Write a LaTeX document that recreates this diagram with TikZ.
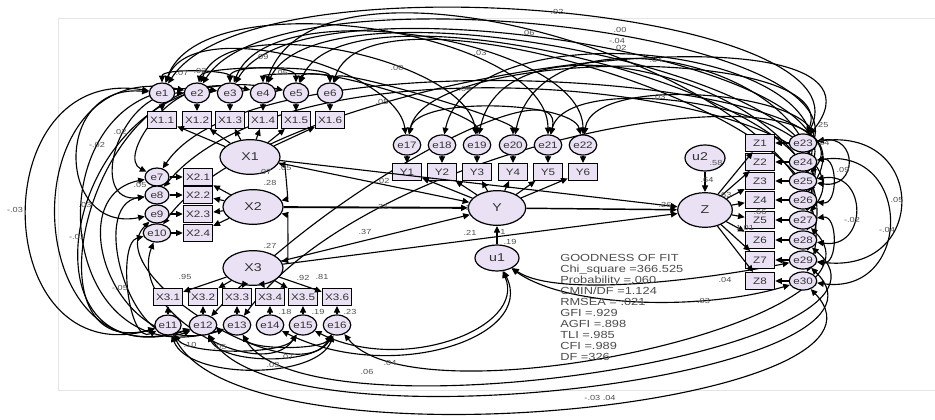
\documentclass[tikz,border=0pt]{standalone}
\usepackage{fontspec}
\setmainfont[FakeStretch=1.25]{Liberation Sans}
\usetikzlibrary{shapes.geometric,arrows.meta}
\pgfdeclarelayer{background}
\pgfsetlayers{background,main}
\definecolor{nfill}{RGB}{234,226,244}
\definecolor{gtext}{RGB}{80,80,80}
\begin{document}
\begin{tikzpicture}[x=0.75pt,y=-0.75pt,
 lat/.style={ellipse,draw,fill=nfill,line width=0.9pt,minimum width=45pt,minimum height=26pt,inner sep=0pt,text=black!80,font=\fontsize{8.5}{8.5}\selectfont},
 err/.style={ellipse,draw,fill=nfill,line width=0.9pt,minimum width=19pt,minimum height=15pt,inner sep=0pt,text=black!80,font=\fontsize{7}{7}\selectfont},
 errs/.style={err,minimum width=18pt,minimum height=13.5pt},
 obs/.style={rectangle,draw,fill=nfill,line width=0.9pt,minimum width=22pt,minimum height=12.5pt,inner sep=0pt,text=black!80,font=\fontsize{7}{7}\selectfont},
 reg/.style={-{Triangle[length=5pt,width=4.5pt]},line width=0.85pt},
 cov/.style={{Triangle[length=5pt,width=4.5pt]}-{Triangle[length=5pt,width=4.5pt]},line width=0.85pt},
 lbl/.style={font=\fontsize{5.5}{5.5}\selectfont,text=gtext,inner sep=0.5pt},
]
\useasboundingbox (0,0) rectangle (935,420);

% ---- latent variables
\node[lat] (X1) at (250,157) {X1};
\node[lat] (X2) at (253,207) {X2};
\node[lat] (X3) at (253,268) {X3};
\node[lat,minimum width=43pt] (Y) at (497,208) {Y};
\node[lat,minimum width=41pt] (Z) at (705,210) {Z};
\node[lat,minimum width=33pt,minimum height=19.5pt] (u1) at (497,258) {u1};
\node[lat,minimum width=30pt,minimum height=19.5pt] (u2) at (705,158) {};
\node[inner sep=0pt,text=black!80,font=\fontsize{8.5}{8.5}\selectfont] (u2t) at (700,157) {u2};

% ---- indicators and errors
\foreach \i/\x in {1/162,2/197,3/230,4/263,5/296,6/330}{
  \node[err] (e\i) at (\x,93) {e\i};
  \node[obs] (x1\i) at (\x,120) {X1.\i};
}
\foreach \i/\y in {1/177,2/195,3/214,4/233}{
  \pgfmathtruncatemacro\k{\i+6}
  \node[errs] (e\k) at (157,\y) {e\k};
  \node[obs] (x2\i) at (198,\y) {X2.\i};
}
\foreach \i/\x in {1/168,2/203,3/237,4/270,5/303,6/337}{
  \pgfmathtruncatemacro\k{\i+10}
  \node[err] (e\k) at (\x,325) {e\k};
  \node[obs] (x3\i) at (\x,297) {X3.\i};
}
\foreach \i/\x in {1/407,2/442,3/477,4/513,5/548,6/583}{
  \pgfmathtruncatemacro\k{\i+16}
  \node[err] (e\k) at (\x,145) {e\k};
  \node[obs] (y\i) at (\x,172) {Y\i};
}
\foreach \i/\y in {1/143,2/162,3/181,4/200,5/220,6/240,7/260,8/281}{
  \pgfmathtruncatemacro\k{\i+22}
  \node[errs] (e\k) at (803,\y) {e\k};
  \node[obs] (z\i) at (760,\y) {Z\i};
}

% ---- measurement paths
\foreach \i in {1,...,6}{
  \draw[reg] (e\i) -- (x1\i);
  \draw[reg] (X1) -- (x1\i);
  \pgfmathtruncatemacro\k{\i+10}
  \draw[reg] (e\k) -- (x3\i);
  \draw[reg] (X3) -- (x3\i);
  \pgfmathtruncatemacro\m{\i+16}
  \draw[reg] (e\m) -- (y\i);
  \draw[reg] (Y) -- (y\i);
}
\foreach \i in {1,...,4}{
  \pgfmathtruncatemacro\k{\i+6}
  \draw[reg] (e\k) -- (x2\i);
  \draw[reg] (X2) -- (x2\i);
}
\foreach \i in {1,...,8}{
  \pgfmathtruncatemacro\k{\i+22}
  \draw[reg] (e\k) -- (z\i);
  \draw[reg] (Z) -- (z\i);
}

% ---- structural paths
\draw[reg] (X1) -- (Y);
\draw[reg,line width=1.4pt] (X2) -- (Y);
\draw[reg] (X3) -- (Y);
\draw[reg] (X3) -- (Z);
\draw[reg] (X1) -- (Z);
\draw[reg,line width=1.1pt] (Y) -- (Z);
\draw[reg] (u1) -- (Y);
\draw[reg] (u2) -- (Z);
\draw[cov] (X1) .. controls +(35,8) and +(35,-8) .. (X2);
\draw[cov] (X2) .. controls +(35,8) and +(35,-8) .. (X3);

% ---- covariances among errors (behind the nodes)
\begin{pgfonlayer}{background}
\fill[white] (0,0) rectangle (935,420);
\draw[black!10,line width=0.6pt] (935,18) -- (58,18) -- (58,390) -- (935,390);
\foreach \a/\b/\xa/\ya/\xb/\yb in {
 e1/e23/90/-140/70/-135, e2/e24/80/-130/70/-130, e3/e25/70/-125/65/-120,
 e4/e26/60/-125/60/-120, e5/e27/50/-125/55/-120, e6/e28/40/-125/50/-120,
 e1/e17/30/-80/-10/-77, e2/e19/30/-85/-10/-85, e3/e22/40/-105/0/-105,
 e4/e30/60/-180/80/-185, e17/e23/20/-100/40/-97, e18/e25/30/-140/50/-135,
 e20/e27/30/-150/50/-150, e22/e24/10/-75/40/-68, e19/e29/30/-155/70/-158,
 e1/e21/40/-115/0/-115, e5/e19/10/-32/0/-32, e6/e20/10/-25/0/-25,
 e2/e6/5/-28/0/-28, e1/e3/0/-25/0/-23, e3/e5/0/-28/0/-28, e4/e6/0/-20/0/-20,
 e21/e26/20/-80/50/-90, e17/e22/10/-50/-10/-43,
 e1/e11/-180/-30/-180/50, e2/e12/-190/-40/-185/60, e1/e9/-110/-10/-100/20,
 e3/e13/-200/-30/-195/60, e4/e11/-170/-40/-150/40, e2/e8/-80/0/-70/10,
 e7/e13/-100/20/-120/40, e8/e12/-70/10/-70/30, e10/e11/-40/10/-40/20,
 e3/e7/-60/-10/-40/-20, e5/e12/-230/-50/-200/60, e9/e16/-60/60/-40/70,
 e11/e16/20/55/-20/55, e12/e16/20/40/-20/40, e11/e15/20/30/-20/30,
 e13/e16/15/25/-15/25, e11/e30/80/150/120/125, e12/e29/80/130/120/115,
 e13/e28/70/120/130/110, e14/u1/120/60/40/80, e15/u1/100/50/30/70,
 e16/e27/80/100/100/100, e10/e15/-30/80/-40/60,
 u1/e30/70/50/-100/30, u1/e29/60/40/-100/20,
 e23/e29/125/-15/125/15, e24/e30/110/-15/110/15, e23/e25/55/-8/55/8,
 e25/e28/65/-10/65/10, e27/e29/35/-5/35/5, e24/e26/35/-5/35/5,
 e7/e25/100/-150/90/-100, e8/e27/150/-180/100/-120, e12/e21/140/-150/20/-80,
 e13/e26/150/-200/100/-150, e10/e23/120/-170/120/-150}{
  \draw[cov] (\a) .. controls +(\xa,\ya) and +(\xb,\yb) .. (\b);
}
\end{pgfonlayer}

% ---- estimates
\foreach \t/\x/\y in {
 .02/557/12, .00/620/30, -.04/617/41, .02/620/48, .06/528/33, .03/480/53,
 .09/262/57, .07/182/73, .02/200/71, -.05/280/73, .00/397/68, .04/465/89,
 .04/656/60, .05/382/102, .03/659/97, .25/822/125, .24/823/143,
 .02/120/132, -.02/97/145, .05/140/185, -.03/15/210, .03/85/205, -.01/77/237,
 -.05/120/288, .10/190/345, .05/220/347, .07/287/357, .03/273/365,
 .06/367/372, .04/390/363, {-.03 .04}/600/398,
 .05/897/200, -.04/887/230, .09/843/170, -.02/852/220,
 .21/382/207, .37/365/232, .21/470/233, .19/510/242, .26/665/205,
 .02/383/181, 1/468/208, 1/503/232, .28/270/183, .27/270/246,
 .07/265/172, .05/285/168, .58/716/163, .64/707/180, .63/725/195,
 .66/760/212, 1.01/745/228, -.03/702/301, .04/725/280,
 .95/185/277, .92/303/278, .81/322/277, .18/285/312, .19/318/312, .23/350/312}{
  \node[lbl] at (\x,\y) {\t};
}

% ---- goodness of fit
\node[anchor=north west,align=left,inner sep=0pt,text=black!70,
      font=\fontsize{7.7}{8.25}\selectfont] (gof) at (560,254)
 {GOODNESS OF FIT\\Chi\_square =366.525\\Probability =.060\\CMIN/DF =1.124\\RMSEA = .021\\GFI =.929\\AGFI =.898\\TLI =.985\\CFI =.989\\DF =326};
\end{tikzpicture}
\end{document}
